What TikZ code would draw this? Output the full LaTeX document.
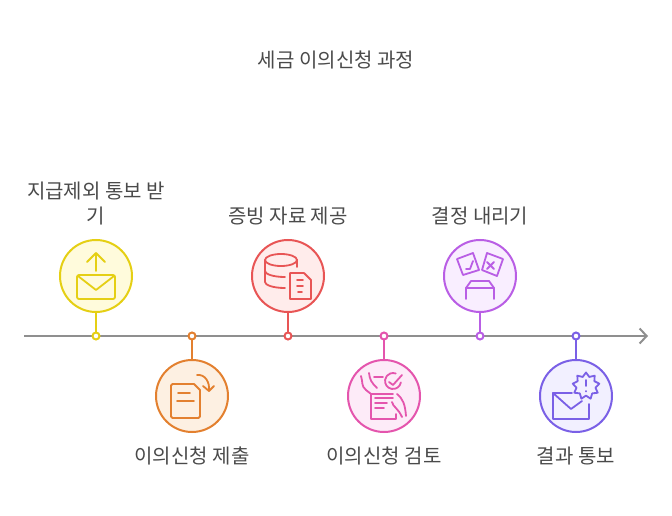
\documentclass[tikz,border=0pt]{standalone}
\usepackage{fontspec}
\setmainfont{Noto Sans CJK KR}
\usepackage{xcolor}
\usetikzlibrary{positioning, arrows.meta, shapes.geometric}
\definecolor{axisgray}{HTML}{8F8F8F}
\definecolor{labelgray}{HTML}{4A4A4A}
\definecolor{yellowline}{HTML}{E5CF14}
\definecolor{yellowfill}{HTML}{FFFBDC}
\definecolor{orangeline}{HTML}{E3802F}
\definecolor{orangefill}{HTML}{FDF0E2}
\definecolor{redline}{HTML}{E85555}
\definecolor{redfill}{HTML}{FFECEB}
\definecolor{pinkline}{HTML}{E455AD}
\definecolor{pinkfill}{HTML}{FDEBF8}
\definecolor{purpleline}{HTML}{B95EE5}
\definecolor{purplefill}{HTML}{F9EEFF}
\definecolor{violetline}{HTML}{7A60E6}
\definecolor{violetfill}{HTML}{F2F0FF}

\begin{document}
\begin{tikzpicture}[
  x=1pt, y=-1pt,
  font=\fontsize{20}{25}\selectfont,
  stage/.style={draw=#1line, fill=#1fill, circle, minimum size=72pt,
                inner sep=0pt, outer sep=0pt, line width=2pt},
  tick/.style={draw=#1line, fill=white, circle, minimum size=7pt,
               inner sep=0pt, outer sep=0pt, line width=2pt},
  stem/.style={draw=#1line, line width=2pt},
  icon/.style={draw=#1line, line width=1.8pt, line cap=round, line join=round},
  lbl/.style={text=labelgray, align=center, inner sep=0pt}
]
\useasboundingbox (0,0) rectangle (672,516);
\coordinate (axisL) at (24,336);
\coordinate (axisR) at (648,336);
\draw[axisgray, line width=2pt, -{Straight Barb[length=7pt,width=15pt,line width=2pt]}] (axisL) -- (axisR);

\node[lbl] (title) at (336,60) {세금 이의신청 과정};

\node[stage=yellow] (notice) at (96,276) {};
\node[stage=orange] (submit) at (192,396) {};
\node[stage=red] (evidence) at (288,276) {};
\node[stage=pink] (review) at (384,396) {};
\node[stage=purple] (decide) at (480,276) {};
\node[stage=violet] (result) at (576,396) {};

\node[tick=yellow] (t1) at (96,336) {};
\node[tick=orange] (t2) at (192,336) {};
\node[tick=red] (t3) at (288,336) {};
\node[tick=pink] (t4) at (384,336) {};
\node[tick=purple] (t5) at (480,336) {};
\node[tick=violet] (t6) at (576,336) {};

\draw[stem=yellow] (notice) -- (t1);
\draw[stem=orange] (submit) -- (t2);
\draw[stem=red] (evidence) -- (t3);
\draw[stem=pink] (review) -- (t4);
\draw[stem=purple] (decide) -- (t5);
\draw[stem=violet] (result) -- (t6);

\node[lbl] (noticeT) at (96,204) {지급제외 통보 받\\기};
\node[lbl] (submitT) at (192,456) {이의신청 제출};
\node[lbl] (evidenceT) at (288,216) {증빙 자료 제공};
\node[lbl] (reviewT) at (384,456) {이의신청 검토};
\node[lbl] (decideT) at (480,216) {결정 내리기};
\node[lbl] (resultT) at (576,456) {결과 통보};

% icons
\begin{scope}[shift={(notice)}]
  \draw[icon=yellow] (0,-5) -- (0,-23) (-9,-14) -- (0,-23) -- (9,-14);
  \draw[icon=yellow, rounded corners=2pt] (-19,-1) rectangle (19,23);
  \draw[icon=yellow] (-18,0) -- (0,14) -- (18,0);
\end{scope}
\begin{scope}[shift={(submit)}]
  \draw[icon=orange, rounded corners=1.5pt] (2,-12) -- (-21,-12) -- (-21,22) -- (8,22) -- (8,-6);
  \draw[icon=orange] (2,-12) -- (8,-6);
  \draw[icon=orange] (-14,-3) -- (-2,-3) (-15,5) -- (2,5);
  \draw[icon=orange] (5,-21) .. controls (13,-22) and (18,-14) .. (17,-5);
  \draw[icon=orange] (11,-10) -- (17,-5) -- (22,-10);
\end{scope}
\begin{scope}[shift={(evidence)}]
  \draw[icon=red] (-7,-16) ellipse [x radius=16, y radius=6];
  \draw[icon=red] (-23,-16) -- (-23,6) .. controls (-23,9) and (-15,12) .. (-3,12);
  \draw[icon=red] (-23,-5) .. controls (-23,-2) and (-15,1) .. (-3,1);
  \draw[icon=red] (9,-16) -- (9,-9);
  \draw[icon=red] (16,-3) -- (2,-3) -- (2,23) -- (23,23) -- (23,4) -- (16,-3);
  \draw[icon=red] (9,4) -- (15,4) (9,10) -- (15,10) (10,16) -- (14,16);
\end{scope}
\begin{scope}[shift={(review)}]
  \draw[icon=pink] (9,-2) -- (-13,-2) -- (-13,23) -- (12,23) -- (12,18);
  \draw[icon=pink] (-9,2) -- (9,2) (-9,7) -- (3,7) (-9,12) -- (0,12);
  \draw[icon=pink] (-10,-19) -- (-1,-19);
  \draw[icon=pink] ([shift={(10:8)}]9,-15) arc [start angle=10, end angle=290, radius=8];
  \draw[icon=pink] (5,-14) -- (9,-11) -- (18,-21);
  \draw[icon=pink] (-23,-20) .. controls (-21,-14) and (-23,-10) .. (-18,-6) -- (-13,-2);
  \draw[icon=pink] (-15,-23) .. controls (-14,-16) and (-13,-14) .. (-7,-8);
  \draw[icon=pink] (13,-2) .. controls (19,3) and (21,8) .. (22,20);
  \draw[icon=pink] (8,6) .. controls (9,11) and (14,12) .. (18,21);
\end{scope}
\begin{scope}[shift={(decide)}]
  \draw[icon=purple] (-23,-17) -- (-7,-23) -- (-1,-6) -- (-17,-1) -- cycle;
  \draw[icon=purple] (-14,-7) -- (-10,-7) -- (-7,-15);
  \draw[icon=purple] (7,-23) -- (23,-17) -- (17,0) -- (2,-6) -- cycle;
  \draw[icon=purple] (7,-14) -- (14,-7) (14,-14) -- (7,-7);
  \draw[icon=purple] (-14,23) -- (-14,12) -- (-9,5) -- (9,5) -- (14,12) -- (14,23);
  \draw[icon=purple] (-14,12) -- (14,12);
\end{scope}
\begin{scope}[shift={(result)}]
  \draw[icon=violet] (-4,-3) -- (-23,-3) -- (-23,23) -- (13,23) -- (13,8);
  \draw[icon=violet] (-23,-3) -- (-5,13) -- (6,5);
  \node[icon=violet, star, star points=9, star point ratio=1.4, minimum size=27pt,
        inner sep=0pt] (badge) at (10,-10) {};
  \draw[icon=violet] (10,-16) -- (10,-10) (10,-5) -- (10,-4.6);
\end{scope}
\end{tikzpicture}
\end{document}
